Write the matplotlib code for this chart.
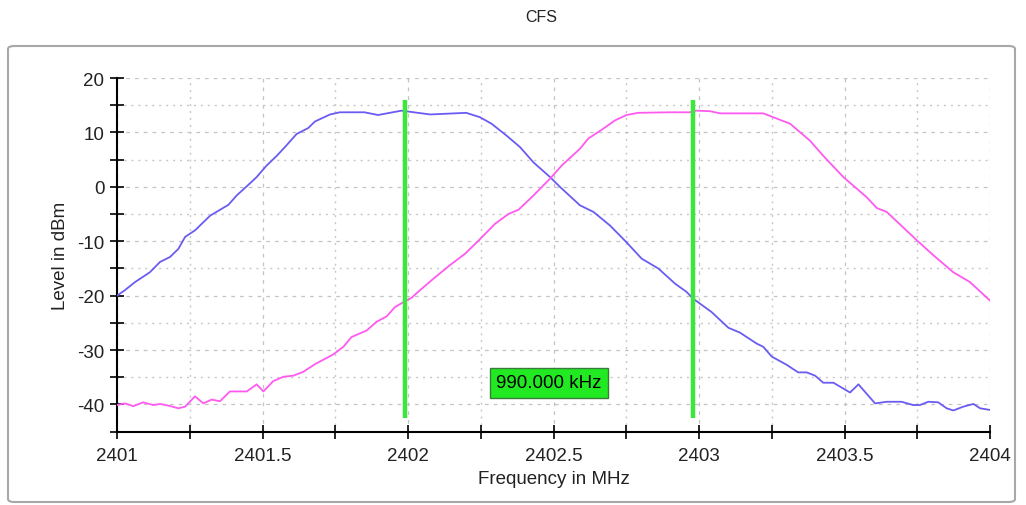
import numpy as np
import matplotlib
matplotlib.use("Agg")
import matplotlib.pyplot as plt
from matplotlib.patches import FancyBboxPatch
from matplotlib.ticker import MultipleLocator

plt.rcParams['font.family'] = ['Liberation Sans', 'DejaVu Sans']
plt.rcParams['axes.unicode_minus'] = False

# Trace 1 (blue): channel centred near 2402 MHz
blue_freq = [2401.000, 2401.027, 2401.062, 2401.113, 2401.148, 2401.182, 2401.211,
             2401.234, 2401.268, 2401.320, 2401.383, 2401.411, 2401.446, 2401.480,
             2401.514, 2401.549, 2401.577, 2401.617, 2401.657, 2401.680, 2401.732,
             2401.766, 2401.850, 2401.897, 2401.978, 2402.076, 2402.200, 2402.247,
             2402.287, 2402.339, 2402.385, 2402.431, 2402.488, 2402.522, 2402.591,
             2402.637, 2402.694, 2402.751, 2402.803, 2402.860, 2402.918, 2402.957,
             2402.981, 2403.043, 2403.101, 2403.141, 2403.198, 2403.221, 2403.250,
             2403.301, 2403.341, 2403.370, 2403.399, 2403.427, 2403.462, 2403.519,
             2403.548, 2403.605, 2403.645, 2403.696, 2403.736, 2403.759, 2403.788,
             2403.822, 2403.851, 2403.874, 2403.908, 2403.943, 2403.966, 2404.000]
blue_level = [-20.0, -19.0, -17.5, -15.7, -13.8, -12.9, -11.4,
              -9.2, -8.0, -5.3, -3.3, -1.6, 0.1, 1.8,
              3.9, 5.7, 7.3, 9.7, 10.8, 12.0, 13.3,
              13.7, 13.7, 13.2, 14.0, 13.3, 13.6, 12.8,
              11.6, 9.4, 7.3, 4.5, 1.8, 0.0, -3.4,
              -4.6, -7.1, -10.2, -13.2, -15.0, -17.8, -19.3,
              -20.6, -23.0, -25.9, -26.8, -28.8, -29.4, -31.2,
              -32.7, -34.1, -34.1, -34.7, -36.0, -36.0, -37.8,
              -36.3, -39.8, -39.5, -39.5, -40.1, -40.1, -39.5,
              -39.6, -40.7, -41.1, -40.4, -39.9, -40.7, -41.0]

# Trace 2 (magenta): channel centred near 2403 MHz
mag_freq = [2401.000, 2401.027, 2401.056, 2401.090, 2401.125, 2401.148, 2401.176,
            2401.211, 2401.234, 2401.268, 2401.297, 2401.325, 2401.354, 2401.388,
            2401.446, 2401.480, 2401.503, 2401.537, 2401.572, 2401.606, 2401.640,
            2401.680, 2401.743, 2401.778, 2401.806, 2401.858, 2401.892, 2401.927,
            2401.955, 2401.984, 2402.012, 2402.041, 2402.087, 2402.144, 2402.196,
            2402.242, 2402.299, 2402.345, 2402.380, 2402.431, 2402.488, 2402.528,
            2402.591, 2402.620, 2402.666, 2402.711, 2402.751, 2402.791, 2402.900,
            2402.969, 2402.990, 2403.038, 2403.072, 2403.221, 2403.255, 2403.313,
            2403.381, 2403.427, 2403.496, 2403.576, 2403.611, 2403.645, 2403.748,
            2403.806, 2403.874, 2403.931, 2404.000]
mag_level = [-40.1, -39.8, -40.3, -39.6, -40.1, -39.9, -40.2,
             -40.7, -40.4, -38.5, -39.8, -39.1, -39.4, -37.6,
             -37.6, -36.3, -37.6, -35.7, -34.9, -34.7, -34.0,
             -32.6, -30.8, -29.4, -27.6, -26.4, -24.8, -23.8,
             -22.1, -21.2, -20.4, -19.0, -16.9, -14.4, -12.3,
             -9.9, -6.8, -5.0, -4.2, -1.6, 1.5, 3.9,
             7.0, 8.9, 10.5, 12.2, 13.2, 13.6, 13.7,
             13.7, 14.0, 13.9, 13.5, 13.5, 12.8, 11.6,
             8.5, 5.7, 1.8, -1.9, -3.9, -4.6, -9.8,
             -12.6, -15.7, -17.5, -20.9]

# Marker positions (MHz)
marker_freq = [2401.99, 2402.98]
marker_span = (-42.5, 16.0)

x_limits = (2401, 2404)
y_limits = (-45, 20)

fig = plt.figure(figsize=(10.26, 5.06), dpi=100)
fig.patch.set_facecolor('white')

# Rounded frame around the plot area
frame = FancyBboxPatch((8 / 1026, 1 - 503 / 506), 1007 / 1026, 456 / 506,
                       boxstyle="round,pad=0,rounding_size=0.006",
                       transform=fig.transFigure, facecolor='none',
                       edgecolor='#a8a8a8', linewidth=1.5, zorder=-1)
fig.patches.append(frame)

fig.text(0.528, 1 - 18 / 506, 'CFS', ha='center', va='center',
         fontsize=11.5, color='#222222')

ax = fig.add_axes([117 / 1026, 1 - 432.7 / 506, 873 / 1026, (432.7 - 79) / 506])
ax.set_facecolor('none')

ax.plot(blue_freq, blue_level, color='#6a5cf2', lw=1.3, zorder=3)
ax.plot(mag_freq, mag_level, color='#ff5af0', lw=1.3, zorder=3)

for f in marker_freq:
    ax.plot([f, f], marker_span, color='#3ae83a', lw=3.2, zorder=4,
            solid_capstyle='butt')

delta_khz = (marker_freq[1] - marker_freq[0]) * 1000
ax.text(sum(marker_freq) / 2, -36.0, f'{delta_khz:.3f} kHz', ha='center',
        va='center', fontsize=13.5, color='black', zorder=5,
        bbox=dict(boxstyle='square,pad=0.35', facecolor='#22ea22',
                  edgecolor='#3a7a3a', linewidth=1.0))

ax.set_xlim(*x_limits)
ax.set_ylim(*y_limits)

ax.xaxis.set_major_locator(MultipleLocator(0.5))
ax.xaxis.set_minor_locator(MultipleLocator(0.25))
ax.yaxis.set_major_locator(MultipleLocator(10))
ax.yaxis.set_minor_locator(MultipleLocator(5))
ax.xaxis.set_major_formatter(matplotlib.ticker.FuncFormatter(lambda v, p: f'{v:g}'))

ax.tick_params(which='both', direction='inout', length=10, width=1.2,
               color='black', labelsize=13.5, labelcolor='#222222')
ax.tick_params(axis='x', which='major', pad=6)
ax.tick_params(axis='y', which='major', pad=4)

ax.grid(which='major', color='#c4c4c4', linestyle=(0, (3, 4)), lw=0.9, zorder=1)
ax.grid(which='minor', color='#c8c8c8', linestyle=(0, (1.5, 3.5)), lw=1.0, zorder=1)

for s in ['top', 'right']:
    ax.spines[s].set_visible(False)
for s in ['left', 'bottom']:
    ax.spines[s].set_linewidth(1.5)
    ax.spines[s].set_color('black')

ax.set_xlabel('Frequency in MHz', fontsize=13.5, color='#222222', labelpad=4)
ax.set_ylabel('Level in dBm', fontsize=13.5, color='#222222', labelpad=6)

fig.savefig('out.png', dpi=100)
